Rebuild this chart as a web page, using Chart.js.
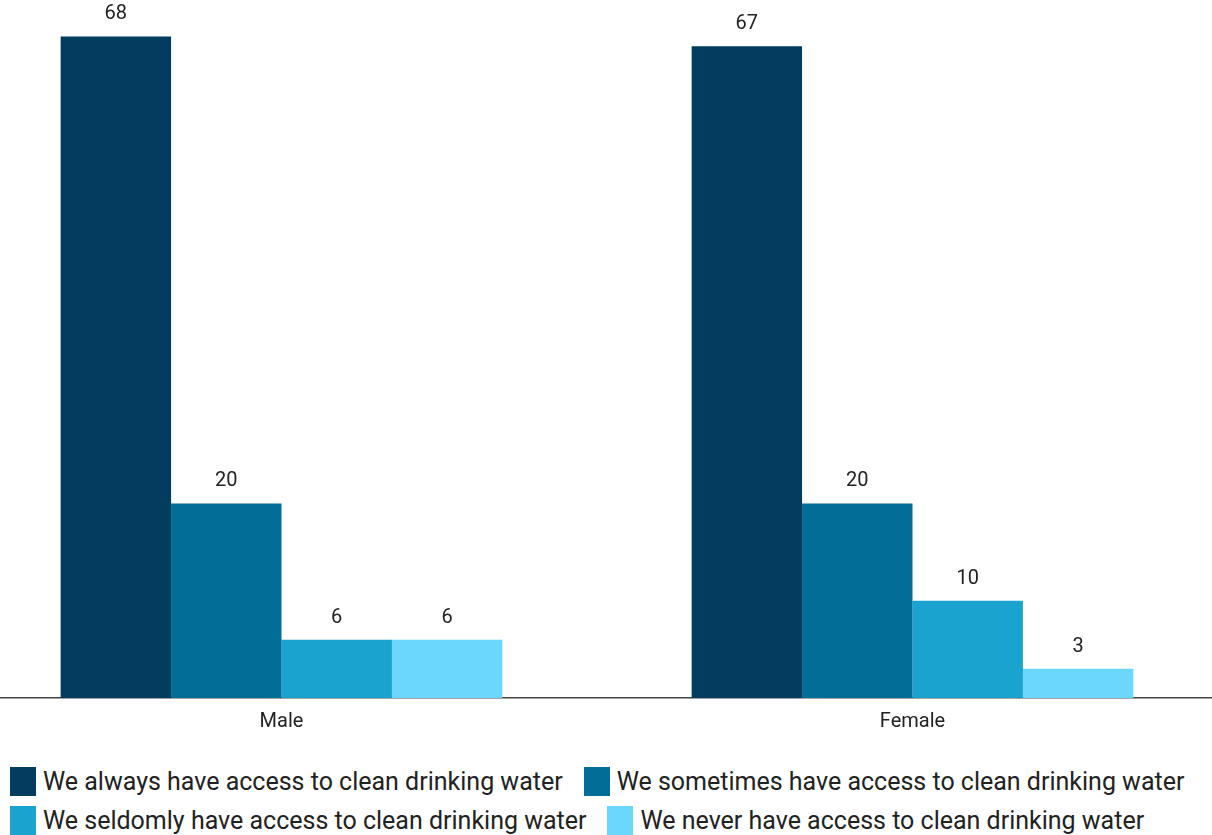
<!DOCTYPE html>
<html>
<head>
<meta charset="utf-8">
<script src="https://cdn.jsdelivr.net/npm/chart.js@4/dist/chart.umd.min.js"></script>
<style>
  html, body { margin: 0; padding: 0; background: #fff; width: 1212px; height: 835px; overflow: hidden; }
  #wrap { position: absolute; left: -34px; top: 0; width: 1262px; height: 750px; }
  #legend { position: absolute; left: 10px; top: 762px; font-family: Roboto, sans-serif; font-size: 25px; color: #222; }
  .row { display: flex; align-items: center; height: 39px; white-space: nowrap; }
  .item { display: flex; align-items: center; margin-right: 21px; }
  .box { width: 26px; height: 29px; margin-right: 7px; }
</style>
</head>
<body>
<div id="wrap"><canvas id="c"></canvas></div>
<div id="legend"></div>
<script>
const categories = ["Male", "Female"];
const seriesNames = [
  "We always have access to clean drinking water",
  "We sometimes have access to clean drinking water",
  "We seldomly have access to clean drinking water",
  "We never have access to clean drinking water"
];
const alwaysValues = [68, 67];
const sometimesValues = [20, 20];
const seldomlyValues = [6, 10];
const neverValues = [6, 3];
const colors = ["#023d60", "#026d97", "#1ba3cf", "#6bd7fd"];

const allValues = [alwaysValues, sometimesValues, seldomlyValues, neverValues];

const valueLabels = {
  id: 'valueLabels',
  afterDatasetsDraw(chart) {
    const ctx = chart.ctx;
    ctx.save();
    ctx.font = '20px Roboto, sans-serif';
    ctx.fillStyle = '#222';
    ctx.textAlign = 'center';
    ctx.textBaseline = 'middle';
    chart.data.datasets.forEach((ds, i) => {
      chart.getDatasetMeta(i).data.forEach((bar, j) => {
        ctx.fillText(String(ds.data[j]), bar.x, bar.y - 22);
      });
    });
    ctx.restore();
  }
};

new Chart(document.getElementById('c'), {
  type: 'bar',
  data: {
    labels: categories,
    datasets: allValues.map((vals, i) => ({
      label: seriesNames[i],
      data: vals,
      backgroundColor: colors[i],
      borderWidth: 0,
      categoryPercentage: 0.7,
      barPercentage: 1.0
    }))
  },
  options: {
    responsive: true,
    maintainAspectRatio: false,
    animation: false,
    layout: { padding: { top: 17, bottom: 4, left: 0, right: 0 } },
    plugins: { legend: { display: false }, tooltip: { enabled: false } },
    scales: {
      x: {
        grid: { display: false, drawTicks: false },
        border: { display: true, color: '#444', width: 1.5 },
        ticks: { font: { family: 'Roboto', size: 20 }, color: '#222', padding: 12 }
      },
      y: {
        display: false,
        min: 0,
        max: 70
      }
    }
  },
  plugins: [valueLabels]
});

const legend = document.getElementById('legend');
[[0, 1], [2, 3]].forEach(idxs => {
  const row = document.createElement('div');
  row.className = 'row';
  idxs.forEach(i => {
    const it = document.createElement('div');
    it.className = 'item';
    const b = document.createElement('span');
    b.className = 'box';
    b.style.background = colors[i];
    const t = document.createElement('span');
    t.textContent = seriesNames[i];
    it.appendChild(b); it.appendChild(t);
    row.appendChild(it);
  });
  legend.appendChild(row);
});
</script>
</body>
</html>
